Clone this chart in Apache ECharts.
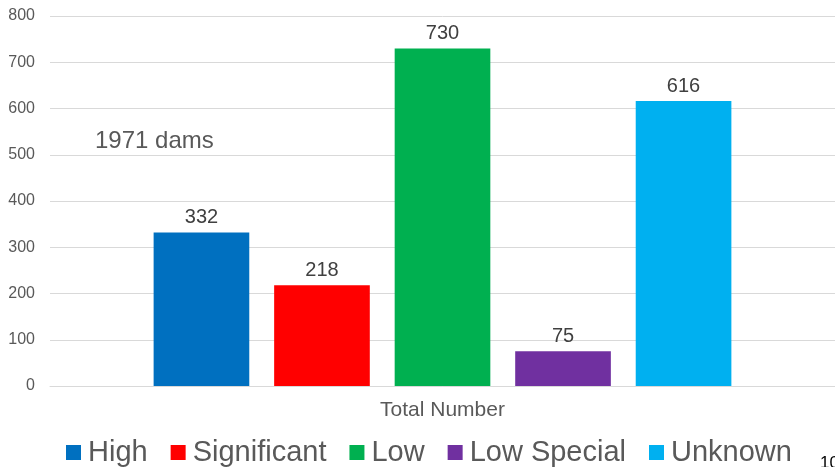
<!DOCTYPE html>
<html>
<head>
<meta charset="utf-8">
<script src="https://cdn.jsdelivr.net/npm/echarts@6/dist/echarts.min.js"></script>
<style>
  html, body { margin: 0; padding: 0; background: #fff; overflow: hidden; }
  #chart { width: 835px; height: 467px; }
  #page { position: absolute; left: 820px; top: 453px; font: 17px "Liberation Sans", Arial, sans-serif; color: #000; line-height: 20px; }
</style>
</head>
<body>
<div id="chart"></div>
<div id="page">10</div>
<script>
const categories = ['Total Number'];
const seriesNames = ['High', 'Significant', 'Low', 'Low Special', 'Unknown'];
const seriesValues = [332, 218, 730, 75, 616];
const seriesColors = ['#0070C0', '#FF0000', '#00B050', '#7030A0', '#00B0F0'];
const yTicks = { min: 0, max: 800, interval: 100 };
const noteText = '1971 dams';

const font = '"Liberation Sans", Arial, sans-serif';
const chart = echarts.init(document.getElementById('chart'));

const series = seriesNames.map((name, i) => ({
  name: name,
  type: 'bar',
  data: [seriesValues[i]],
  itemStyle: { color: seriesColors[i] },
  barGap: '26%',
  barCategoryGap: '26.4%',
  label: {
    show: true,
    position: 'top',
    distance: 5,
    color: '#404040',
    fontSize: 20,
    fontFamily: font
  }
}));

chart.setOption({
  animation: false,
  grid: { left: 50, right: 0, top: 16, bottom: 81 },
  legend: {
    top: 433,
    left: 61,
    itemWidth: 15,
    itemHeight: 15,
    itemGap: 23,
    icon: 'rect',
    textStyle: { fontSize: 29, color: '#595959', fontFamily: font, padding: [0, 0, 0, 2] },
    data: seriesNames
  },
  xAxis: {
    type: 'category',
    data: categories,
    axisLine: { lineStyle: { color: '#D9D9D9' } },
    axisTick: { show: false },
    axisLabel: { color: '#595959', fontSize: 21, fontFamily: font, margin: 14 }
  },
  yAxis: {
    type: 'value',
    min: yTicks.min,
    max: yTicks.max,
    interval: yTicks.interval,
    axisLine: { show: false },
    axisTick: { show: false },
    splitLine: { lineStyle: { color: '#D9D9D9' } },
    axisLabel: { color: '#595959', fontSize: 16, fontFamily: font, margin: 15 }
  },
  graphic: [{
    type: 'text',
    left: 95,
    top: 129,
    style: { text: noteText, fill: '#595959', font: '24px ' + font }
  }],
  series: series
});
</script>
</body>
</html>
